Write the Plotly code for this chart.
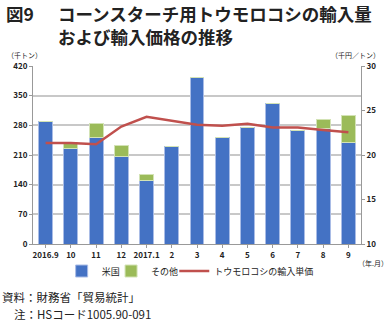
import plotly.graph_objects as go

categories = ["2016.9", "10", "11", "12", "2017.1", "2", "3", "4", "5", "6", "7", "8", "9"]
us = [290, 226, 252, 206, 149, 229, 392, 252, 274, 331, 267, 273, 240]
other = [0, 13, 33, 26, 14, 0, 0, 0, 0, 0, 0, 20, 63]
price = [21.35, 21.35, 21.2, 23.2, 24.3, 23.85, 23.4, 23.3, 23.5, 23.1, 23.1, 22.8, 22.55]

FONT = "Noto Sans CJK JP"
W, H = 388, 323
L, R, T, B = 33, 23, 66, 79
x = list(range(len(categories)))


def px(xp):
    return (xp - L) / (W - L - R)


def py(yp):
    return 1 - (yp - T) / (H - T - B)


fig = go.Figure()
fig.add_trace(go.Bar(x=x, y=us, name="米国", legend="legend",
                     marker=dict(color="#4472C4", line=dict(color="#A9BCE6", width=1)), width=0.55))
fig.add_trace(go.Bar(x=x, y=other, name="その他", legend="legend2",
                     marker=dict(color="#9BBB59", line=dict(color="#D3E3B5", width=1)), width=0.55))
fig.add_trace(go.Scatter(x=x, y=price, name="トウモロコシの輸入単価", mode="lines", legend="legend3",
                         line=dict(color="#C0504D", width=2.5), yaxis="y2"))

leg = dict(orientation="h", yanchor="middle", y=py(271), xanchor="left",
           font=dict(size=9, family=FONT, color="#222"), bgcolor="rgba(0,0,0,0)",
           itemclick=False, borderwidth=0)

fig.update_layout(
    width=W, height=H,
    margin=dict(l=L, r=R, t=T, b=B),
    barmode="stack",
    paper_bgcolor="white", plot_bgcolor="white",
    font=dict(family=FONT, color="#222"),
    showlegend=True,
    legend=dict(leg, x=px(62)),
    legend2=dict(leg, x=px(112)),
    legend3=dict(leg, x=px(176)),
    xaxis=dict(tickmode="array", tickvals=x, ticktext=categories, range=[-0.5, 12.5],
               showline=True, linecolor="#999", linewidth=1, ticks="outside", ticklen=3,
               tickcolor="#999", tickfont=dict(size=8, weight="bold", family=FONT), showgrid=False),
    yaxis=dict(range=[0, 420], dtick=70, showline=True, linecolor="#999", linewidth=1,
               ticks="outside", ticklen=3, tickcolor="#999", gridcolor="#c8c8c8", gridwidth=1.5,
               tickfont=dict(size=8, weight="bold", family=FONT), zeroline=False),
    yaxis2=dict(range=[10, 30], dtick=5, overlaying="y", side="right", showline=True,
                linecolor="#999", linewidth=1, ticks="outside", ticklen=3, tickcolor="#999",
                showgrid=False, tickfont=dict(size=8, weight="bold", family=FONT), zeroline=False),
)

ann = [
    dict(text="<b>図9</b>", x=4, y=13, size=17.5),
    dict(text="<b>コーンスターチ用トウモロコシの輸入量</b>", x=56, y=13, size=17.5),
    dict(text="<b>および輸入価格の推移</b>", x=56, y=36, size=17.5),
    dict(text="（千トン）", x=5, y=55, size=7),
    dict(text="（千円／トン）", x=333, y=55, size=7),
    dict(text="（年.月）", x=360, y=263, size=7),
    dict(text="資料：財務省「貿易統計」", x=0, y=297, size=11.5),
    dict(text="注：HSコード1005.90-091", x=12, y=314, size=11.5),
]
for a in ann:
    fig.add_annotation(text=a["text"], xref="paper", yref="paper",
                       x=px(a["x"]), y=py(a["y"]),
                       xanchor="left", yanchor="middle", showarrow=False,
                       font=dict(size=a["size"], family=FONT, color="#222"))

fig.write_html("out.html")
